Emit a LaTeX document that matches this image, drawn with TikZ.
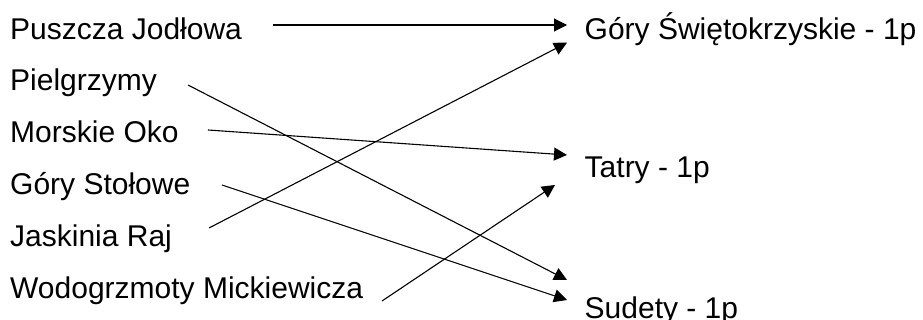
\documentclass[tikz,border=0pt]{standalone}
\usepackage{fontspec}
\setmainfont{Liberation Sans}
\usetikzlibrary{arrows.meta}
\begin{document}
\begin{tikzpicture}[x=1pt,y=-1pt,
  lbl/.style={anchor=base west,inner sep=0pt,font=\fontsize{30pt}{36pt}\selectfont},
  conn/.style={line width=1.1pt,-{Triangle[length=13pt,width=13pt]}}]
\useasboundingbox (0,0) rectangle (923,320);
\node[lbl] (l1) at (10,40) {Puszcza Jodłowa};
\node[lbl] (l2) at (10,91) {Pielgrzymy};
\node[lbl] (l3) at (10,143) {Morskie Oko};
\node[lbl] (l4) at (10,195) {Góry Stołowe};
\node[lbl] (l5) at (10,247) {Jaskinia Raj};
\node[lbl] (l6) at (10,298.5) {Wodogrzmoty Mickiewicza};
\node[lbl] (r1) at (584.5,39.5) {Góry Świętokrzyskie - 1p};
\node[lbl] (r2) at (584.5,178) {Tatry - 1p};
\node[lbl] (r3) at (584.5,318) {Sudety - 1p};
% start points near left labels
\coordinate (s1) at (273,25);
\coordinate (s2) at (188,85);
\coordinate (s3) at (208,130);
\coordinate (s4) at (222,185);
\coordinate (s5) at (209,228);
\coordinate (s6) at (382,301);
% end points near right labels
\coordinate (e1) at (567,25);
\coordinate (e5) at (567,42.7);
\coordinate (e3) at (567,155);
\coordinate (e6) at (555,185);
\coordinate (e2) at (567,280);
\coordinate (e4) at (567,300);
\draw[conn] (s1) -- (e1);
\draw[conn] (s2) -- (e2);
\draw[conn] (s3) -- (e3);
\draw[conn] (s4) -- (e4);
\draw[conn] (s5) -- (e5);
\draw[conn] (s6) -- (e6);
\end{tikzpicture}
\end{document}
